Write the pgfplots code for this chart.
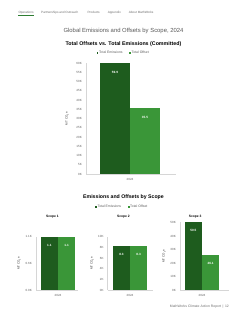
\documentclass[border=0pt]{standalone}
\usepackage{fontspec}
\setmainfont{Liberation Sans}
\usepackage{pgfplots}
\pgfplotsset{compat=1.18}

\definecolor{emis}{RGB}{30,92,30}
\definecolor{offs}{RGB}{58,150,56}
\definecolor{axisgray}{RGB}{214,214,214}
\definecolor{ticktext}{RGB}{95,95,95}
\definecolor{titlegray}{RGB}{90,90,90}
\definecolor{navgray}{RGB}{110,110,110}
\definecolor{navgreen}{RGB}{46,125,50}

\newcommand{\fs}[1]{\fontsize{#1}{#1}\selectfont}

\pgfplotsset{
  scopebar/.style={
    scale only axis,
    anchor=south west,
    ybar=0pt,
    ymin=0,
    xtick={0}, xticklabels={2024},
    axis x line*=bottom, axis y line*=left,
    axis line style={axisgray, line width=0.5pt},
    major tick length=0pt,
    tick label style={font=\fs{3}, text=ticktext, inner sep=0pt},
    yticklabel shift=4pt,
    xticklabel shift=4.5pt,
    clip=false,
    ylabel={MT CO\textsubscript{2}e},
    ylabel style={anchor=center, font=\fs{3}, text=black!80, inner sep=0pt},
    nodes near coords={\pgfmathprintnumber[fixed,fixed zerofill,precision=1,assume math mode=true]{\pgfplotspointmeta}},
    every node near coord/.append style={anchor=north, yshift=-4pt,
      font=\fs{3.1}\bfseries, text=white},
    legend image code/.code={\fill[#1] (0pt,-0.9pt) rectangle (1.8pt,0.9pt);},
    legend style={draw=none, fill=none, legend columns=2, font=\fs{3.4},
      text=ticktext, inner sep=0pt, anchor=center,
      nodes={inner sep=0.6pt},
      /tikz/every even column/.append style={column sep=6pt}},
  },
  ylabpos/.style={every axis y label/.append style={at={(axis description cs:#1,0.5)}}},
}

\begin{document}
\begin{tikzpicture}[x=1pt,y=1pt]
\fill[white] (0,0) rectangle (247,320);

% section navigation
\begin{scope}[every node/.style={anchor=west, inner sep=0pt, font=\fs{3.1}, text=navgray}]
  \node at (18.3,307.7) {Operations};
  \node at (41,307.7) {Partnerships and Outreach};
  \node at (87.3,307.7) {Products};
  \node at (107.7,307.7) {Appendix};
  \node at (128.7,307.7) {About MathWorks};
\end{scope}
\draw[navgreen, line width=0.8pt] (18.3,304.3) -- (33.7,304.3);

% headings
\node[inner sep=0pt, font=\fs{5.9}, text=titlegray] at (123.5,289) {Global Emissions and Offsets by Scope, 2024};
\node[inner sep=0pt, font=\fs{5.3}\bfseries] at (123.5,276) {Total Offsets vs. Total Emissions (Committed)};
\node[inner sep=0pt, font=\fs{5.2}\bfseries] at (123.5,123.3) {Emissions and Offsets by Scope};
\node[inner sep=0pt, font=\fs{3.3}\bfseries] at (52.4,103.3) {Scope 1};
\node[inner sep=0pt, font=\fs{3.3}\bfseries] at (123.5,103.3) {Scope 2};
\node[inner sep=0pt, font=\fs{3.3}\bfseries] at (195.2,103.3) {Scope 3};

% total offsets vs total emissions
\begin{axis}[scopebar,
  at={(86pt,146pt)}, width=90pt, height=110.7pt,
  xmin=-44, xmax=46, ymax=60, bar width=30pt,
  ytick={0,5,...,60},
  yticklabels={0K,5K,10K,15K,20K,25K,30K,35K,40K,45K,50K,55K,60K},
  ylabpos=-0.211,
  legend style={at={(0.5,1)}, xshift=-8pt, yshift=10.3pt},
]
\addplot[fill=emis, draw=none] coordinates {(0,59.9)};
\addplot[fill=offs, draw=none] coordinates {(0,35.5)};
\legend{Total Emissions, Total Offset}
\end{axis}

% scope 1
\begin{axis}[scopebar,
  at={(36pt,30pt)}, width=42pt, height=53.3pt,
  xmin=-22, xmax=20, ymax=1.1, bar width=17.3pt,
  ytick={0,0.55,1.1}, yticklabels={0.0K,0.6K,1.1K},
  ylabpos=-0.405,
]
\addplot[fill=emis, draw=none] coordinates {(0,1.1)};
\addplot[fill=offs, draw=none] coordinates {(0,1.1)};
\end{axis}

% scope 2
\begin{axis}[scopebar,
  at={(107.7pt,30pt)}, width=45.3pt, height=53.3pt,
  xmin=-22.3, xmax=23, ymax=10, bar width=17.2pt,
  ytick={0,2,...,10}, yticklabels={0K,2K,4K,6K,8K,10K},
  ylabpos=-0.347,
  legend style={at={(0.5,1)}, xshift=-8.8pt, yshift=30pt},
]
\addplot[fill=emis, draw=none] coordinates {(0,8.3)};
\addplot[fill=offs, draw=none] coordinates {(0,8.3)};
\legend{Total Emissions, Total Offset}
\end{axis}

% scope 3
\begin{axis}[scopebar,
  at={(180pt,30pt)}, width=49pt, height=67.7pt,
  xmin=-22, xmax=27, ymax=50.5, bar width=17.2pt,
  ytick={0,10,...,50}, yticklabels={0K,10K,20K,30K,40K,50K},
  ylabpos=-0.327,
]
\addplot[fill=emis, draw=none] coordinates {(0,50.5)};
\addplot[fill=offs, draw=none] coordinates {(0,26.1)};
\end{axis}

% footer
\node[anchor=east, inner sep=0pt, font=\fs{3.4}, text=navgray] at (229,13) {MathWorks Climate Action Report \,|\, 12};
\end{tikzpicture}
\end{document}
